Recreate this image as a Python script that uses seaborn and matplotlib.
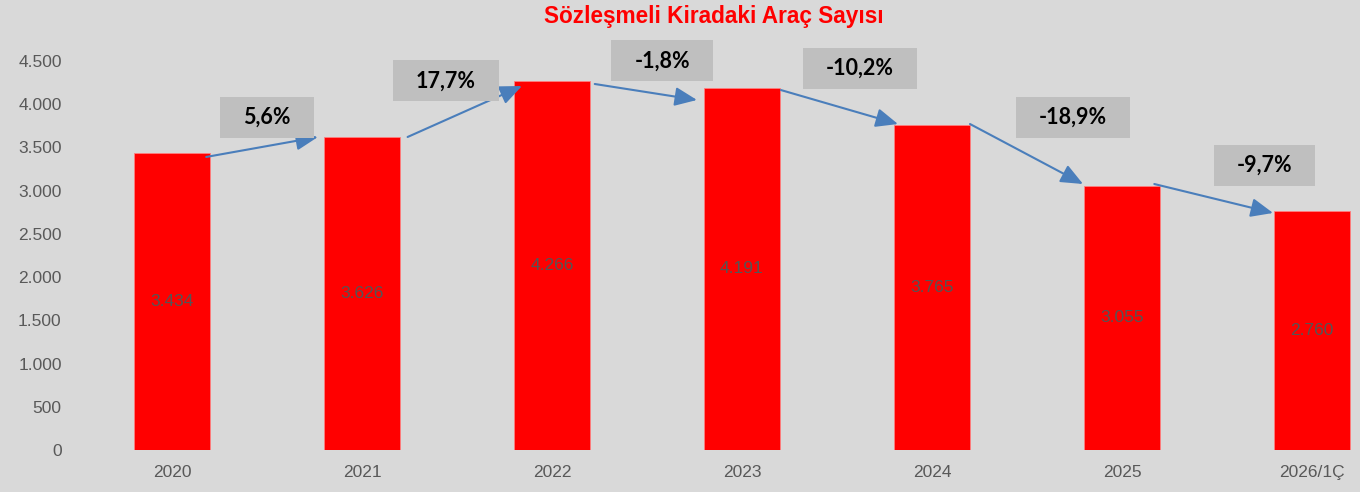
import matplotlib
matplotlib.use("Agg")
import matplotlib.pyplot as plt
import seaborn as sns
import pandas as pd
from matplotlib.patches import Rectangle
from matplotlib.transforms import Bbox

# ---- data ----
categories = ["2020", "2021", "2022", "2023", "2024", "2025", "2026/1Ç"]
values = [3434, 3626, 4266, 4191, 3765, 3055, 2760]
yticks = [0, 500, 1000, 1500, 2000, 2500, 3000, 3500, 4000, 4500]
title = "Sözleşmeli Kiradaki Araç Sayısı"

# layout of change boxes (x in category units, y in data units)
box_pos = [(0.50, 3847), (1.44, 4269), (2.58, 4501), (3.62, 4413), (4.74, 3852), (5.75, 3291)]
# arrow start/end offsets relative to bar centre / bar top
arrow_start = [(0.18, -44), (0.24, -5), (0.225, -32), (0.205, -27), (0.20, 6), (0.17, 22)]
arrow_end = [(-0.232, -5), (-0.158, -55), (-0.237, -142), (-0.179, 6), (-0.205, 22), (-0.205, -18)]

BG = "#d9d9d9"
sns.set_theme(style="white")
plt.rcParams["font.family"] = ["Liberation Sans", "DejaVu Sans"]

fig = plt.figure(figsize=(13.6, 4.92), dpi=100, facecolor=BG)
ax = fig.add_axes([77 / 1360, 42 / 492, 1283 / 1360, 410 / 492])
ax.set_facecolor(BG)

df = pd.DataFrame({"cat": categories, "val": values})
sns.barplot(data=df, x="cat", y="val", color="#ff0000", saturation=1, width=0.4,
            edgecolor="#ff8080", linewidth=0.6, ax=ax)

ax.set_xlim(-0.5, -0.5 + 1283 / 190)
ax.set_ylim(0, 410 / (389 / 4500))
ax.set_yticks(yticks)
ax.set_yticklabels([f"{v:,}".replace(",", ".") for v in yticks])
ax.set_xlabel("")
ax.set_ylabel("")
for s in ax.spines.values():
    s.set_visible(False)
ax.tick_params(axis="y", length=0, pad=11, labelsize=12.5, labelcolor="#595959")
ax.tick_params(axis="x", length=0, pad=11, labelsize=12.5, labelcolor="#595959")
ax.grid(False)

# value labels in the bars
for i, v in enumerate(values):
    ax.text(i, v / 2, f"{v:,}".replace(",", "."), ha="center", va="center",
            fontsize=12.5, color="#555555")

# arrows between bars
for i in range(len(values) - 1):
    sx, sy = arrow_start[i]
    ex, ey = arrow_end[i]
    ax.annotate("", xy=(i + 1 + ex, values[i + 1] + ey), xytext=(i + sx, values[i] + sy),
                arrowprops=dict(arrowstyle="-|>,head_length=0.75,head_width=0.32",
                                mutation_scale=18, lw=1.5, color="#4a7ebb",
                                shrinkA=0, shrinkB=0), zorder=5)

# change labels with grey boxes
texts = []
for i in range(len(values) - 1):
    ch = (values[i + 1] / values[i] - 1) * 100
    lab = f"{ch:.1f}%".replace(".", ",")
    bx, by = box_pos[i]
    t = ax.text(bx, by, lab, ha="center", va="center", fontsize=15.5, fontweight="bold",
                color="black", family=["Lato", "DejaVu Sans"], zorder=7)
    texts.append(t)

fig.canvas.draw()
r = fig.canvas.get_renderer()
inv = ax.transData.inverted()
for t in texts:
    bb = t.get_window_extent(r)
    cx, cy = ax.transData.transform(t.get_position())
    disp = Bbox([[bb.x0 - 23, cy - 20.5], [bb.x1 + 23, cy + 20.5]])
    d = Bbox(inv.transform(disp.get_points()))
    ax.add_patch(Rectangle((d.x0, d.y0), d.width, d.height, facecolor="#bfbfbf",
                           edgecolor="none", zorder=6, clip_on=False))

fig.text(714 / 1360, 1 - 16 / 492, title, ha="center", va="center", fontsize=16.3,
         fontweight="bold", color="#ff0000")

fig.savefig("out.png", dpi=100, facecolor=BG)
